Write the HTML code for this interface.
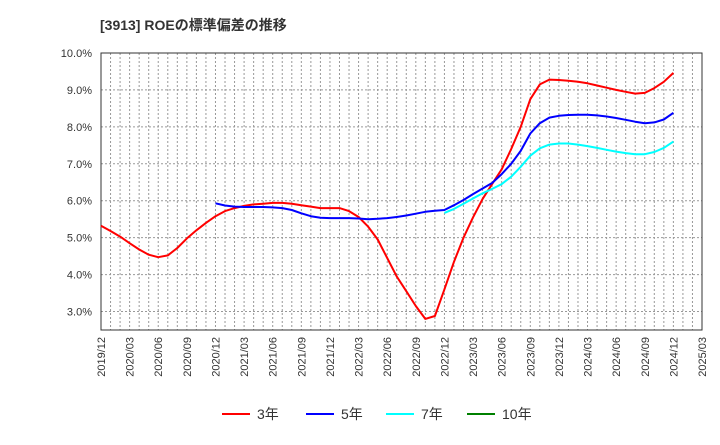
<!DOCTYPE html>
<html><head><meta charset="utf-8"><style>
body{margin:0;background:#fff;font-family:"Liberation Sans","Noto Sans CJK JP",sans-serif;}
svg text{font-family:"Liberation Sans","Noto Sans CJK JP",sans-serif;}
</style></head><body>
<svg id="chart" width="720" height="440" xmlns="http://www.w3.org/2000/svg">
<text x="100" y="30" font-size="14" font-weight="bold" fill="#333">[3913]  ROEの標準偏差の推移</text>
<g id="grid"></g>
<g id="axes"></g>
<g id="series"></g>
<g id="legend"></g>
</svg>
<script>
const tickLabels=["2019/12","2020/03","2020/06","2020/09","2020/12","2021/03","2021/06","2021/09","2021/12","2022/03","2022/06","2022/09","2022/12","2023/03","2023/06","2023/09","2023/12","2024/03","2024/06","2024/09","2024/12","2025/03"];
const yTicks=[3,4,5,6,7,8,9,10];
const red3=[5.32,5.18,5.03,4.85,4.68,4.54,4.47,4.52,4.72,4.98,5.2,5.4,5.58,5.72,5.8,5.86,5.9,5.92,5.94,5.94,5.92,5.88,5.84,5.8,5.8,5.8,5.72,5.56,5.3,4.95,4.45,3.95,3.55,3.15,2.8,2.88,3.6,4.35,5.0,5.55,6.05,6.45,6.85,7.4,8.0,8.75,9.15,9.28,9.27,9.25,9.22,9.18,9.12,9.06,9.0,8.95,8.9,8.92,9.05,9.22,9.46];
const blue5Start=12;
const blue5=[5.93,5.87,5.84,5.83,5.83,5.83,5.82,5.8,5.75,5.66,5.58,5.54,5.53,5.53,5.53,5.52,5.5,5.51,5.53,5.56,5.6,5.65,5.7,5.73,5.75,5.88,6.02,6.18,6.33,6.48,6.72,7.0,7.35,7.82,8.1,8.25,8.3,8.32,8.33,8.33,8.31,8.28,8.24,8.19,8.14,8.1,8.12,8.2,8.38];
const cyan7Start=36;
const cyan7=[5.67,5.78,5.92,6.06,6.2,6.32,6.45,6.65,6.92,7.22,7.42,7.52,7.55,7.55,7.52,7.48,7.43,7.38,7.33,7.29,7.26,7.26,7.32,7.43,7.6];
const green10=[];
const L=101,R=702,T=53,B=330,months=63;
const X=i=>L+i*(R-L)/months;
const Y=v=>T+(10-v)*(B-T)/7.5;
const NS="http://www.w3.org/2000/svg";
function mk(tag,attrs,parent){const e=document.createElementNS(NS,tag);for(const k in attrs)e.setAttribute(k,attrs[k]);parent.appendChild(e);return e;}
const grid=document.getElementById('grid'),axes=document.getElementById('axes'),series=document.getElementById('series'),legend=document.getElementById('legend');
for(let m=1;m<months;m++){const l=mk('line',{x1:X(m),x2:X(m),y1:T,y2:B,stroke:'#999','stroke-dasharray':'2,2','stroke-width':1},grid);

}
yTicks.forEach(v=>{const l=mk('line',{x1:L,x2:R,y1:Y(v),y2:Y(v),stroke:'#999','stroke-dasharray':'2,2','stroke-width':1},grid);


const t=mk('text',{x:92,y:Y(v)+4,'text-anchor':'end','font-size':11,fill:'#333'},axes);t.textContent=v.toFixed(1)+'%';

});
const fr=mk('rect',{x:L,y:T,width:R-L,height:B-T,fill:'none',stroke:'#333','stroke-width':1},axes);


tickLabels.forEach((s,i)=>{const x=X(i*3);const t=mk('text',{x:0,y:0,'text-anchor':'end','font-size':11,fill:'#333',transform:`translate(${x+4},337) rotate(-90)`},axes);t.textContent=s;

});
function line(arr,start,color,name){if(!arr.length)return;const d=arr.map((v,i)=>(i?'L':'M')+X(start+i).toFixed(1)+','+Y(v).toFixed(1)).join(' ');
const p=mk('path',{d:d,fill:'none',stroke:color,'stroke-width':2,'stroke-linejoin':'round'},series);

}
line(red3,0,'#ff0000','line-3y');
line(blue5,blue5Start,'#0000ff','line-5y');
line(cyan7,cyan7Start,'#00ffff','line-7y');
line(green10,0,'#008000','line-10y');
const leg=[['3年','#ff0000',222],['5年','#0000ff',306],['7年','#00ffff',386],['10年','#008000',467]];
leg.forEach(([lab,c,x])=>{const g=mk('g',{},legend);


mk('line',{x1:x,x2:x+28,y1:414,y2:414,stroke:c,'stroke-width':2},g);
const t=mk('text',{x:x+35,y:419,'font-size':14,fill:'#333'},g);t.textContent=lab;});
</script>
</body></html>
